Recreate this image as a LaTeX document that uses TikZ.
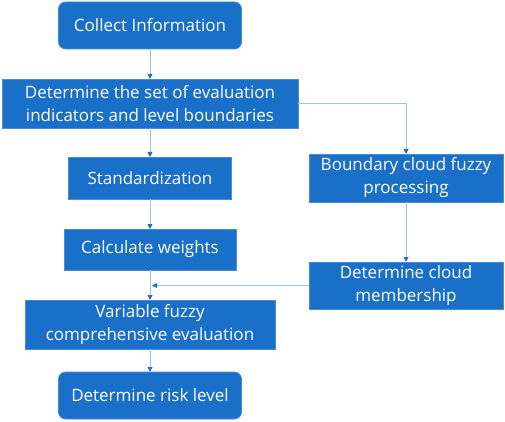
\documentclass[tikz,border=0pt]{standalone}
\usepackage{fontspec}
\setmainfont{Open Sans}
\usepackage{xcolor}
\usetikzlibrary{arrows.meta, positioning}

\definecolor{boxblue}{RGB}{26,112,200}
\definecolor{edgeblue}{RGB}{70,140,215}
\definecolor{lineblue}{RGB}{157,195,235}
\definecolor{tipblue}{RGB}{40,110,200}

\begin{document}
\begin{tikzpicture}[
    x=1pt, y=1pt,
    every node/.style={font=\fontsize{17}{23}\selectfont, text=white},
    box/.style={draw=edgeblue, fill=boxblue, rectangle, line width=0.8pt,
                align=center, inner sep=1pt, outer sep=0pt},
    rbox/.style={box, rounded corners=7pt},
    arrow/.style={-{Triangle[length=5pt, width=5pt, fill=tipblue, color=tipblue]},
                  draw=lineblue, line width=0.9pt}
]
\useasboundingbox (0,0) rectangle (505,-422);

% =========================================================
% LEFT: main chain
% =========================================================
\node[rbox, minimum width=183pt, minimum height=47pt] (collect) at (150,-25.5)
    {Collect Information};
\node[box, below=30pt of collect, minimum width=296pt, minimum height=49pt] (indic)
    {Determine the set of evaluation\\indicators and level boundaries};
\node[box, below=29pt of indic, minimum width=163pt, minimum height=42pt] (stand)
    {Standardization};
\node[box, below=30pt of stand, minimum width=172pt, minimum height=41pt] (weights)
    {Calculate weights};
\node[box, below=30pt of weights, minimum width=250pt, minimum height=49pt] (vfuzzy)
    {Variable fuzzy\\comprehensive evaluation};
\node[rbox, below=23pt of vfuzzy, minimum width=183pt, minimum height=47pt] (risk)
    {Determine risk level};

% =========================================================
% RIGHT: cloud branch
% =========================================================
\node[box, minimum width=194pt, minimum height=48pt] (bcloud) at (406,-178)
    {Boundary cloud fuzzy\\processing};
\node[box, below=60pt of bcloud, minimum width=194pt, minimum height=47pt] (member)
    {Determine cloud\\membership};

% merge point on the weights -> evaluation line
\coordinate (merge) at ([xshift=2pt]weights.south |- member.west);

% =========================================================
% ARROWS
% =========================================================
\draw[arrow] (collect.south) -- (indic.north);
\draw[arrow] (indic.south) -- (stand.north);
\draw[arrow] (stand.south) -- (weights.north);
\draw[arrow] (weights.south) -- (vfuzzy.north);
\draw[arrow] (vfuzzy.south) -- (risk.north);

\draw[arrow] (indic.east) -| (bcloud.north);
\draw[arrow] (bcloud.south) -- (member.north);
\draw[arrow] (member.west) -- (merge);

\end{tikzpicture}
\end{document}
